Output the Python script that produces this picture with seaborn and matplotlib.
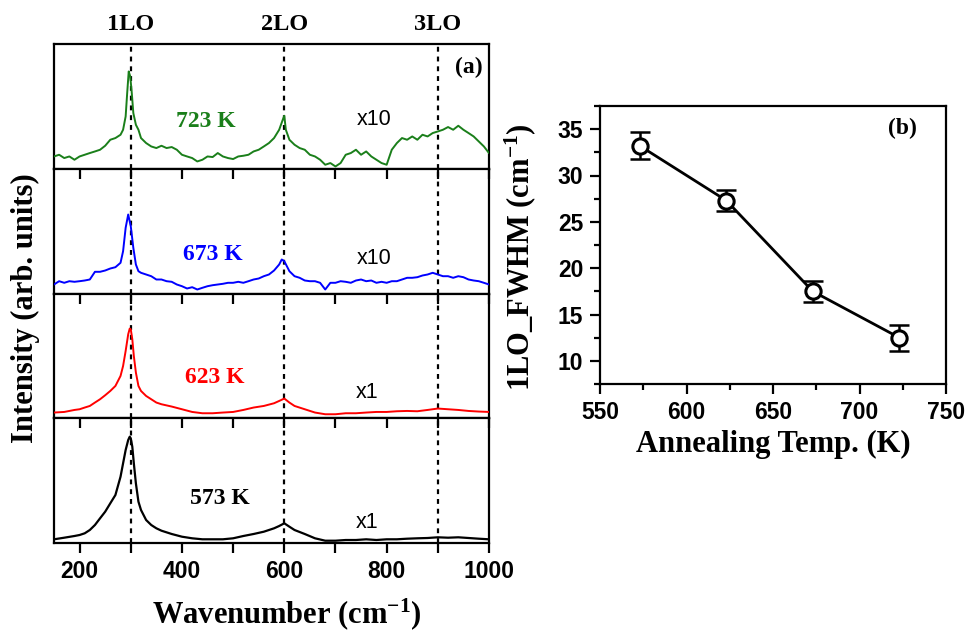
import matplotlib
matplotlib.use("Agg")
import matplotlib.pyplot as plt
import pandas as pd
import seaborn as sns
from matplotlib.ticker import MultipleLocator

sns.set_theme(style="ticks")
plt.rcParams['font.family'] = ['Liberation Sans', 'DejaVu Sans']
plt.rcParams['mathtext.fontset'] = 'custom'
plt.rcParams['mathtext.rm'] = 'Liberation Serif:bold'
plt.rcParams['mathtext.it'] = 'Liberation Serif:bold:italic'
plt.rcParams['mathtext.bf'] = 'Liberation Serif:bold'
for key in ['text.color', 'axes.labelcolor', 'xtick.color', 'ytick.color', 'axes.edgecolor']:
    plt.rcParams[key] = 'black'

# ---------------- data: Raman spectra (arb. units) ----------------
wn_723 = [150, 160, 170, 180, 190, 200, 210, 220, 230, 240, 250, 260, 270, 280, 285, 290, 293, 296, 299,
          302, 305, 310, 315, 320, 330, 340, 350, 360, 370, 380, 390, 400, 410, 420, 430, 440, 450, 460,
          470, 480, 490, 500, 510, 520, 530, 540, 550, 560, 570, 580, 590, 597, 600, 603, 610, 620, 630,
          640, 650, 660, 670, 680, 690, 700, 710, 720, 730, 740, 750, 760, 770, 780, 790, 800, 810, 820,
          830, 840, 850, 860, 870, 880, 890, 900, 910, 920, 930, 940, 950, 960, 970, 980, 990, 1000]
i_723 = [12.3, 14.0, 10.7, 12.3, 9.0, 12.3, 14.0, 15.7, 17.3, 19.0, 23.0, 29.0, 30.7, 34.0, 39.0, 52.3, 75.7,
         97.3, 92.3, 75.7, 55.7, 44.0, 39.0, 30.7, 25.7, 22.3, 20.7, 23.0, 20.7, 21.7, 19.0, 14.0, 12.3,
         10.7, 7.3, 9.0, 12.3, 11.7, 15.7, 12.3, 10.7, 9.7, 12.3, 13.0, 14.0, 17.3, 19.0, 22.3, 25.7, 30.7,
         39.0, 49.0, 53.0, 39.0, 29.0, 24.0, 20.7, 19.0, 14.0, 12.3, 9.0, 4.0, 5.7, 2.3, 5.7, 14.0, 15.7,
         19.0, 14.0, 17.3, 12.3, 9.0, 5.7, 4.0, 19.0, 25.7, 30.7, 29.0, 32.3, 29.0, 34.0, 32.3, 35.7, 37.3,
         39.0, 41.7, 39.0, 43.0, 39.0, 35.7, 32.3, 27.3, 22.3, 15.7]

wn_673 = [150, 160, 170, 180, 190, 200, 210, 220, 230, 240, 250, 260, 270, 280, 285, 290, 295, 300, 305,
          310, 315, 320, 330, 340, 350, 360, 370, 380, 390, 400, 410, 420, 430, 440, 450, 460, 470, 480,
          490, 500, 510, 520, 530, 540, 550, 560, 570, 580, 590, 595, 600, 605, 610, 620, 630, 640, 650,
          660, 670, 680, 690, 700, 710, 720, 730, 740, 750, 760, 770, 780, 790, 800, 810, 820, 830, 840,
          850, 860, 870, 880, 890, 900, 910, 920, 930, 940, 950, 960, 970, 980, 990, 1000]
i_673 = [9.0, 12.3, 10.7, 12.3, 11.7, 12.3, 13.0, 14.0, 21.7, 21.7, 23.0, 25.0, 26.3, 30.7, 42.3, 65.7, 79.0,
         67.3, 45.7, 29.0, 22.3, 20.7, 19.0, 17.3, 14.0, 14.0, 12.3, 11.7, 9.0, 7.3, 5.0, 6.3, 4.0, 5.7,
         7.3, 8.3, 9.0, 9.7, 10.7, 10.7, 11.7, 10.7, 12.3, 14.0, 15.0, 17.3, 19.0, 23.0, 29.0, 34.0, 32.3,
         27.3, 22.3, 17.3, 15.7, 13.0, 12.3, 12.3, 10.7, 4.0, 10.7, 10.7, 12.3, 11.7, 10.7, 13.0, 14.0,
         12.3, 13.0, 10.7, 11.7, 10.7, 12.3, 12.3, 14.0, 15.7, 15.7, 16.3, 18.0, 19.0, 20.7, 19.0, 17.3,
         17.3, 15.7, 17.3, 16.3, 14.0, 13.0, 12.3, 10.7, 9.0]

wn_623 = [150, 170, 190, 200, 210, 220, 230, 240, 250, 260, 270, 280, 285, 290, 295, 298, 300, 303, 306,
          310, 315, 320, 330, 340, 350, 360, 380, 400, 420, 440, 460, 480, 500, 520, 540, 560, 580, 590,
          600, 610, 620, 640, 660, 680, 700, 720, 740, 760, 780, 800, 820, 840, 860, 880, 900, 920, 940,
          960, 980, 1000]
i_623 = [5.7, 6.3, 8.3, 9.0, 10.7, 12.3, 15.7, 19.0, 23.0, 27.3, 32.3, 42.3, 52.3, 67.3, 84.0, 89.7, 89.0,
         79.0, 62.3, 45.7, 32.3, 27.3, 22.3, 19.0, 15.7, 14.0, 11.7, 9.0, 6.3, 5.0, 5.0, 5.7, 6.3, 8.3,
         10.7, 12.3, 15.0, 17.3, 19.7, 15.7, 12.3, 9.0, 5.7, 4.0, 4.0, 5.0, 5.0, 5.7, 6.3, 6.3, 7.0, 7.3,
         7.0, 8.3, 9.7, 9.0, 8.3, 7.3, 6.7, 6.3]

wn_573 = [150, 170, 190, 200, 210, 220, 230, 240, 250, 260, 270, 280, 285, 290, 295, 298, 300, 303, 306,
          310, 315, 320, 330, 340, 350, 360, 380, 400, 420, 440, 460, 480, 500, 520, 540, 560, 580, 590,
          600, 610, 620, 640, 660, 680, 700, 720, 740, 760, 780, 800, 820, 840, 860, 880, 900, 920, 940,
          960, 980, 1000]
i_573 = [3.7, 5.3, 7.0, 8.0, 9.7, 13.0, 18.0, 24.7, 31.3, 39.7, 48.0, 66.3, 79.7, 93.0, 103.0, 106.3, 104.7,
         96.3, 79.7, 59.7, 41.3, 33.0, 23.0, 18.0, 14.7, 12.3, 9.0, 6.3, 4.7, 3.7, 3.7, 3.7, 4.7, 7.0, 9.0,
         11.3, 14.7, 17.0, 19.7, 16.3, 13.0, 9.0, 4.7, 2.3, 2.3, 3.0, 3.0, 3.7, 3.0, 3.7, 3.7, 4.3, 4.7,
         5.0, 5.7, 5.3, 5.7, 5.0, 4.3, 3.7]

spec_labels = ["723 K", "673 K", "623 K", "573 K"]
spec_colors = ["#1a7f1a", "#0000ff", "#ff0000", "#000000"]
scale_labels = ["x10", "x10", "x1", "x1"]
lo_positions = [300, 600, 900]
lo_labels = ["1LO", "2LO", "3LO"]

# ---------------- data: FWHM ----------------
anneal_T = [573, 623, 673, 723]
fwhm = [33.2, 27.3, 17.5, 12.5]
fwhm_err = [1.45, 1.1, 1.1, 1.4]

W, H = 967, 630
fig = plt.figure(figsize=(W / 100, H / 100), dpi=100)

serif_b = dict(family=['Liberation Serif', 'DejaVu Serif'], fontweight='bold')
tick_font = dict(family=['Liberation Sans', 'DejaVu Sans'], fontweight='bold', fontsize=16.5)

spectra = [(wn_723, i_723), (wn_673, i_673), (wn_623, i_623), (wn_573, i_573)]
label_pos = [(446, 47), (460, 39), (464, 41), (474, 45)]
scale_pos = [(775, 49), (775, 35), (762, 26), (762, 20)]
lws = [1.4, 1.4, 1.4, 1.6]

x0, x1 = 54 / W, 489 / W
top_px, bot_px = 44, 543
ph = (bot_px - top_px) / 4
axes = []
for k in range(4):
    yb = 1 - (top_px + (k + 1) * ph) / H
    ax = fig.add_axes([x0, yb, x1 - x0, ph / H])
    axes.append(ax)
    wn, inten = spectra[k]
    df = pd.DataFrame({"wn": wn, "I": inten})
    for p in lo_positions:
        ax.axvline(p, color='black', lw=1.6, ls=(0, (2.2, 2.2)), zorder=1)
    sns.lineplot(data=df, x="wn", y="I", ax=ax, color=spec_colors[k], lw=lws[k], zorder=3)
    ax.set_xlim(150, 1000)
    ax.set_ylim(0, ph)
    ax.set_yticks([])
    ax.set_xlabel("")
    ax.set_ylabel("")
    ax.xaxis.set_major_locator(MultipleLocator(200))
    ax.xaxis.set_minor_locator(MultipleLocator(100))
    for s in ax.spines.values():
        s.set_linewidth(1.6)
        s.set_color('black')
    ax.text(label_pos[k][0], label_pos[k][1], spec_labels[k], color=spec_colors[k],
            fontsize=17, ha='center', va='center', **serif_b)
    ax.text(scale_pos[k][0], scale_pos[k][1], scale_labels[k], color='black',
            fontsize=15.5, ha='center', va='center', family=['Liberation Sans', 'DejaVu Sans'])
    if k == 0:
        ax.tick_params(axis='x', which='both', bottom=False, top=False, labelbottom=False)
    elif k < 3:
        ax.tick_params(axis='x', which='both', bottom=False, top=True, direction='in',
                       length=7, width=1.6, labelbottom=False)
    else:
        ax.tick_params(axis='x', which='both', bottom=True, top=False, direction='out',
                       length=7, width=1.6, pad=5)
        ax.set_xticks([200, 400, 600, 800, 1000])
        ax.set_xticklabels(["200", "400", "600", "800", "1000"], **tick_font)

# inward top ticks for the bottom panel
bt = axes[3]
tw = bt.twiny()
tw.set_xlim(150, 1000)
tw.xaxis.set_major_locator(MultipleLocator(100))
tw.xaxis.set_minor_locator(MultipleLocator(1000))
tw.tick_params(axis='x', which='major', direction='in', length=7, width=1.6, labeltop=False)
tw.tick_params(axis='x', which='minor', length=0)
for s in tw.spines.values():
    s.set_visible(False)

axes[0].text(961, 101, "(a)", fontsize=17, ha='center', va='center', **serif_b)
for p, lab in zip(lo_positions, lo_labels):
    axes[0].text(p, ph + 19, lab, fontsize=17.5, ha='center', va='center', **serif_b)

axes[3].set_xlabel("Wavenumber (cm$^{-1}$)", fontsize=22, **serif_b)
axes[3].xaxis.set_label_coords(287 / W, 1 - 596 / H, transform=fig.transFigure)
axes[1].set_ylabel("Intensity (arb. units)", fontsize=22, **serif_b)
axes[1].yaxis.set_label_coords(40 / W, 1 - 308 / H, transform=fig.transFigure)

# ---------------- right panel ----------------
axr = fig.add_axes([600 / W, 1 - 384 / H, 346 / W, 278 / H])
axr.errorbar(anneal_T, fwhm, yerr=fwhm_err, fmt='none', ecolor='black', elinewidth=1.8,
             capsize=7.5, capthick=1.8, zorder=2)
dfr = pd.DataFrame({"T": anneal_T, "F": fwhm})
sns.lineplot(data=dfr, x="T", y="F", ax=axr, color='black', lw=2.0, marker='o', markersize=11,
             markerfacecolor='white', markeredgecolor='black', markeredgewidth=2.2, zorder=3)
axr.set_xlim(550, 750)
axr.set_ylim(7.5, 37.5)
axr.xaxis.set_major_locator(MultipleLocator(50))
axr.xaxis.set_minor_locator(MultipleLocator(25))
axr.yaxis.set_major_locator(MultipleLocator(5))
axr.yaxis.set_minor_locator(MultipleLocator(2.5))
axr.tick_params(axis='both', which='major', direction='out', length=7, width=1.6, pad=5)
axr.tick_params(axis='both', which='minor', direction='out', length=4, width=1.6)
axr.tick_params(top=False, right=False)
axr.set_xticks([550, 600, 650, 700, 750])
axr.set_xticklabels(["550", "600", "650", "700", "750"], **tick_font)
axr.set_yticks([10, 15, 20, 25, 30, 35])
axr.set_yticklabels(["10", "15", "20", "25", "30", "35"], **tick_font)
for s in axr.spines.values():
    s.set_linewidth(1.6)
    s.set_color('black')
axr.text(725, 35.1, "(b)", fontsize=17, ha='center', va='center', **serif_b)
axr.set_xlabel("Annealing Temp. (K)", fontsize=22, **serif_b)
axr.xaxis.set_label_coords(773 / W, 1 - 430 / H, transform=fig.transFigure)
axr.set_ylabel("1LO_FWHM (cm$^{-1}$)", fontsize=22, **serif_b)
axr.yaxis.set_label_coords(538 / W, 1 - 257 / H, transform=fig.transFigure)

fig.savefig("out.png", dpi=100, facecolor='white')
